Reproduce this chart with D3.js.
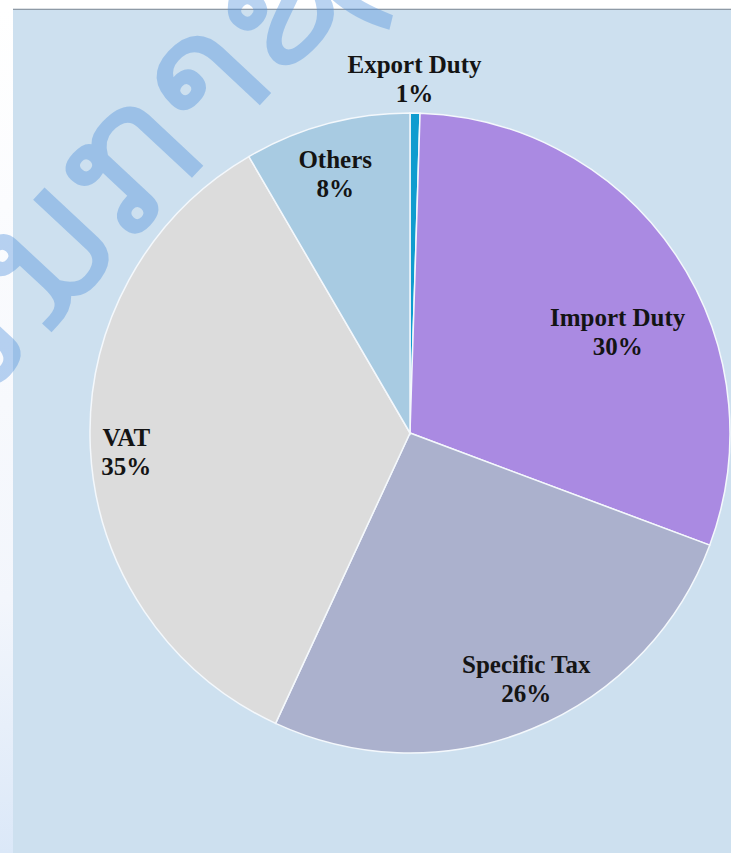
<!DOCTYPE html>
<html><head><meta charset="utf-8">
<script src="https://cdn.jsdelivr.net/npm/d3@7"></script>
<style>html,body{margin:0;padding:0;background:#fff;overflow:hidden} svg{display:block}</style>
</head><body>
<svg id="chart" width="731" height="853"></svg>
<script>
// ---- data ----
const categories = ["Export Duty", "Import Duty", "Specific Tax", "VAT", "Others"];
const values = [0.5, 30.2, 26.2, 34.7, 8.4];
const colors = ["#0f9ccf", "#aa8ae2", "#abb1cd", "#dcdcdc", "#a8cbe2"];
// ---- layout (label placement tweaks) ----
const labelNudge = [[-1, -4], [-5, 40], [19, 7], [-28, 5], [-8, -14]];
const labelOutside = [true, false, false, false, false];
const watermarkText = "ສນກາຊົ";

const W = 731, H = 853;
const cx = 410, cy = 433, R = 320;
const svg = d3.select("#chart");

const defs = svg.append("defs");
const lg = defs.append("linearGradient").attr("id", "strip").attr("x1", 0).attr("y1", 0).attr("x2", 0).attr("y2", 1);
lg.append("stop").attr("offset", "0%").attr("stop-color", "#ffffff");
lg.append("stop").attr("offset", "70%").attr("stop-color", "#f3f6fc");
lg.append("stop").attr("offset", "100%").attr("stop-color", "#dbe8f8");

svg.append("rect").attr("x", 0).attr("y", 0).attr("width", W).attr("height", H).attr("fill", "#ffffff");
svg.append("rect").attr("x", 0).attr("y", 9).attr("width", 13).attr("height", H - 9).attr("fill", "url(#strip)");
svg.append("rect").attr("x", 13).attr("y", 9).attr("width", W - 13).attr("height", H - 9).attr("fill", "#cde0ef");
svg.append("line").attr("x1", 13).attr("x2", W).attr("y1", 9.5).attr("y2", 9.5).attr("stroke", "#8e9aa6").attr("stroke-width", 1);
svg.append("line").attr("x1", 13).attr("x2", W).attr("y1", 8.5).attr("y2", 8.5).attr("stroke", "#dde1e5").attr("stroke-width", 1);

const total = d3.sum(values);
const data = categories.map((c, i) => ({ cat: c, value: values[i], color: colors[i], i }));
const pie = d3.pie().value(d => d.value).sort(null);
const arcs = pie(data);
const arc = d3.arc().innerRadius(0).outerRadius(R);
const labelArcIn = d3.arc().innerRadius(R * 0.8).outerRadius(R * 0.8);
const labelArcOut = d3.arc().innerRadius(R * 1.1).outerRadius(R * 1.1);

const g = svg.append("g").attr("transform", `translate(${cx},${cy})`);
g.selectAll("path.slice").data(arcs).enter().append("path")
  .attr("class", "slice")
  .attr("d", arc)
  .attr("fill", d => d.data.color)
  .attr("stroke", "#f4f8fc")
  .attr("stroke-width", 1.5);

const labels = g.selectAll("text.lbl").data(arcs).enter().append("text")
  .attr("class", "lbl")
  .attr("text-anchor", "middle")
  .attr("font-family", "'Liberation Serif', 'Times New Roman', serif")
  .attr("font-weight", "bold")
  .attr("font-size", 25)
  .attr("fill", "#141414")
  .attr("transform", d => {
    const c = (labelOutside[d.data.i] ? labelArcOut : labelArcIn).centroid(d);
    const n = labelNudge[d.data.i];
    return `translate(${c[0] + n[0]},${c[1] + n[1]})`;
  });
labels.append("tspan").attr("x", 0).attr("y", -4).text(d => d.data.cat);
labels.append("tspan").attr("x", 0).attr("y", 25).text(d => Math.round(d.data.value / total * 100) + "%");

// watermark
svg.append("text")
  .attr("transform", "translate(-45,432) rotate(-47)")
  .attr("font-family", "'DejaVu Sans', sans-serif")
  .attr("font-size", 185)
  .attr("fill", "rgb(80,145,220)")
  .attr("fill-opacity", 0.4)
  .text(watermarkText);
</script>
</body></html>
